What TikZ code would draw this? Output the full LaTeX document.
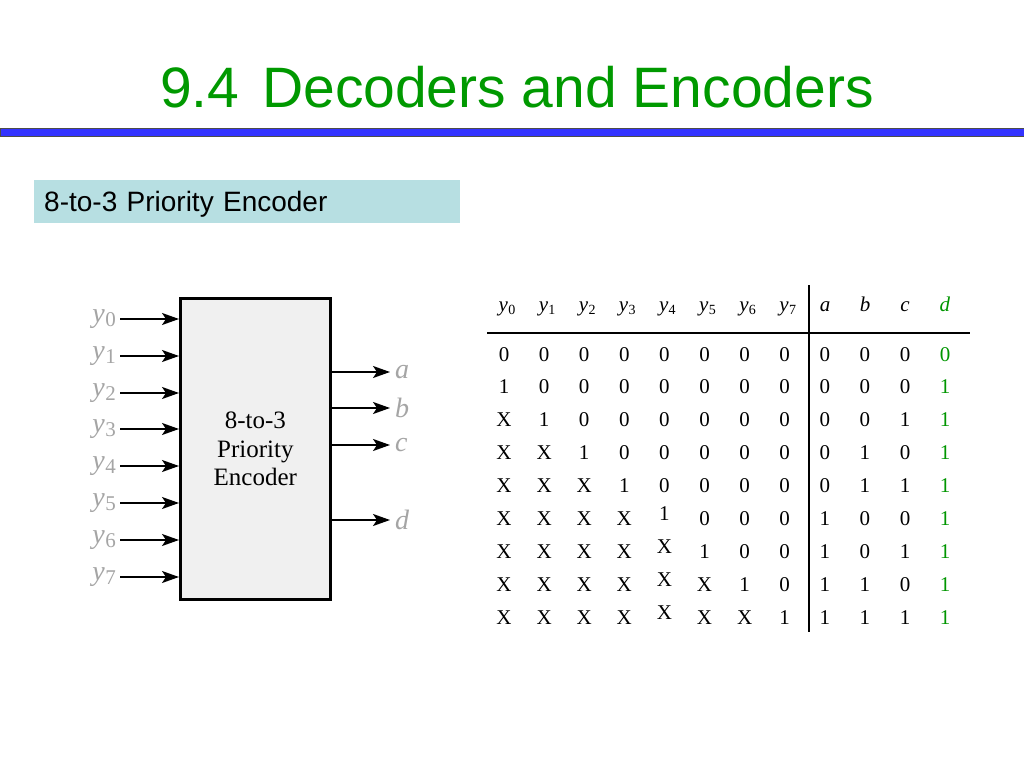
\documentclass[tikz,border=0pt]{standalone}
\usepackage{fontspec}
\setmainfont{Liberation Serif}
\newfontfamily\arialf{Liberation Sans}
\usetikzlibrary{arrows.meta}
\definecolor{titlegreen}{RGB}{0,153,0}
\definecolor{barblue}{RGB}{51,51,255}
\definecolor{subcyan}{RGB}{183,223,226}
\definecolor{lblgray}{RGB}{165,165,165}
\definecolor{boxgray}{RGB}{240,240,240}
\definecolor{dgreen}{RGB}{0,150,0}
\newcommand{\ylab}[1]{\textit{y}\kern0.5pt\raisebox{-0.35ex}{\fontsize{21}{21}\selectfont #1}}
\newcommand{\yhead}[1]{\textit{y}\kern0.3pt\raisebox{-0.35ex}{\fontsize{14}{14}\selectfont #1}}
\tikzset{
  inarrow/.style={line width=1.8pt, -{Stealth[length=17pt,width=12pt,inset=4pt]}},
  graylbl/.style={text=lblgray, font=\fontsize{28}{28}\selectfont, inner sep=0pt},
  cell/.style={anchor=base, font=\fontsize{21}{21}\selectfont, inner sep=0pt},
  hcell/.style={anchor=base, font=\fontsize{21}{21}\selectfont, inner sep=0pt},
}
\begin{document}
\begin{tikzpicture}[x=1pt,y=-1pt]
\useasboundingbox (0,0) rectangle (1024,768);
\fill[white] (0,0) rectangle (1024,768);
% title
\node[anchor=base west, inner sep=0pt, text=titlegreen, font=\arialf\fontsize{57}{57}\selectfont] (title) at (160,107) {9.4\hspace{0.4em}Decoders and Encoders};
% bar
\draw[fill=barblue, draw=black!70, line width=0.8pt] (0,128) rectangle (1024,136);
% subtitle
\node[anchor=north west, fill=subcyan, minimum height=43pt, text width=406pt, text depth=0pt, inner xsep=10pt, inner ysep=0pt, align=left, font=\arialf\fontsize{28}{28}\selectfont] (sub) at (34,180) {8-to-3 Priority Encoder};
% encoder block
\node[anchor=north west, draw, line width=2.7pt, fill=boxgray, minimum width=150pt, minimum height=301pt, inner sep=0pt, align=center, font=\fontsize{25}{28.5}\selectfont] (enc) at (179,297) {8-to-3\\Priority\\Encoder};
\foreach \i/\yy in {0/319,1/356,2/393,3/429,4/466,5/503,6/540,7/577}{
  \node[graylbl, anchor=east] (yl\i) at (116,\yy) {\ylab{\i}};
  \draw[inarrow] (yl\i.east) ++(4,0) coordinate (ys\i) (ys\i) -- (enc.west |- ys\i);
}
\foreach \n/\yy in {a/372,b/408,c/445,d/520}{
  \node[graylbl, anchor=west, font=\fontsize{28}{28}\selectfont\itshape] (o\n) at (395,\yy) {\n};
  \draw[inarrow, shorten >=5pt] (enc.east |- o\n) -- (o\n.west);
}
% table header
\foreach \j in {0,...,7}{
  \node[hcell] (h\j) at ({507+40.1*\j},311) {\yhead{\j}};
}
\node[hcell] (ha) at (825,311) {\textit{a}};
\node[hcell] (hb) at (865,311) {\textit{b}};
\node[hcell] (hc) at (905,311) {\textit{c}};
\node[hcell, text=dgreen] (hd) at (945,311) {\textit{d}};
% rules
\draw[line width=1.3pt] (487,333) -- (970,333);
\draw[line width=1.3pt] (809,285) -- (809,632);
% table body
\foreach \r/\row in {
  1/{0,0,0,0,0,0,0,0,0,0,0,0},
  2/{1,0,0,0,0,0,0,0,0,0,0,1},
  3/{X,1,0,0,0,0,0,0,0,0,1,1},
  4/{X,X,1,0,0,0,0,0,0,1,0,1},
  5/{X,X,X,1,0,0,0,0,0,1,1,1},
  6/{X,X,X,X,1,0,0,0,1,0,0,1},
  7/{X,X,X,X,X,1,0,0,1,0,1,1},
  8/{X,X,X,X,X,X,1,0,1,1,0,1},
  9/{X,X,X,X,X,X,X,1,1,1,1,1}}{
  \foreach \v [count=\c from 0] in \row {
    \pgfmathsetmacro{\cx}{504+40.1*\c}
    \pgfmathsetmacro{\cy}{361+32.9*(\r-1)-((\c==4)&&(\r>5))*5}
    \ifnum\c=11
      \node[cell, text=dgreen] (t\r-\c) at (\cx,\cy) {\v};
    \else
      \node[cell] (t\r-\c) at (\cx,\cy) {\v};
    \fi
  }
}
\end{tikzpicture}
\end{document}
